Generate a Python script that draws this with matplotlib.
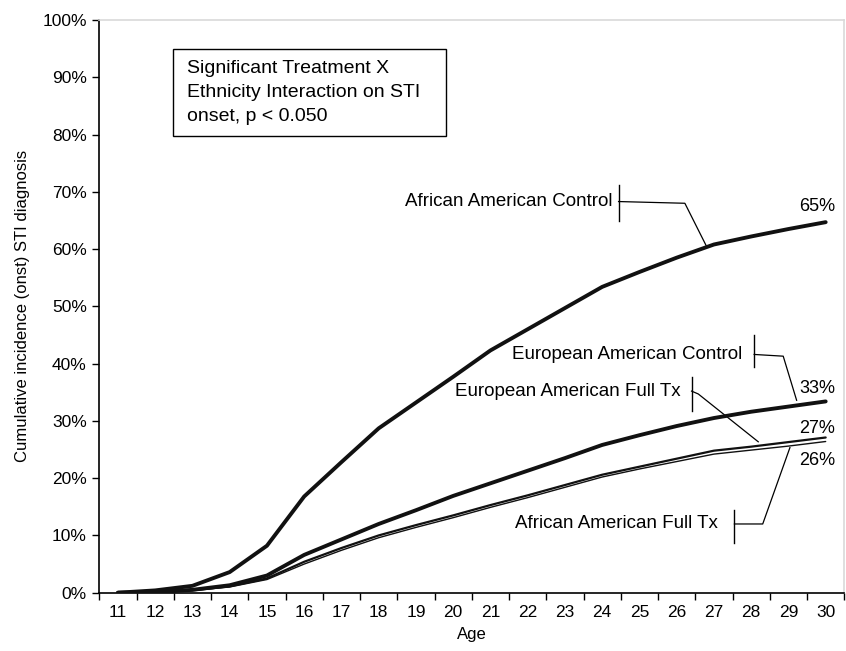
import numpy as np
import matplotlib
matplotlib.use("Agg")
import matplotlib.pyplot as plt
from matplotlib.patches import Rectangle
from matplotlib.ticker import FixedLocator, NullFormatter

plt.rcParams['font.family'] = ['Liberation Sans', 'DejaVu Sans']

# data (percent)
ages = list(range(11, 31))
aa_control = [0, 0.4, 1.2, 3.6, 8.2, 16.8, 22.8, 28.7, 33.2, 37.7,
              42.3, 46.0, 49.7, 53.4, 56.0, 58.5, 60.8, 62.2, 63.5, 64.7]
ea_control = [0, 0.1, 0.5, 1.3, 3.0, 6.6, 9.3, 12.0, 14.4, 16.9,
              19.1, 21.3, 23.5, 25.8, 27.5, 29.1, 30.5, 31.6, 32.5, 33.4]
ea_fulltx = [0, 0.1, 0.4, 1.1, 2.5, 5.4, 7.8, 10.0, 11.8, 13.5,
             15.3, 17.0, 18.8, 20.6, 22.0, 23.4, 24.8, 25.5, 26.3, 27.1]
aa_fulltx = [0, 0.1, 0.4, 1.0, 2.3, 5.0, 7.4, 9.6, 11.4, 13.1,
             14.9, 16.6, 18.4, 20.2, 21.6, 22.9, 24.2, 24.9, 25.6, 26.4]
end_labels = ['65%', '33%', '27%', '26%']
y_ticks = list(range(0, 101, 10))
box_text = 'Significant Treatment X\nEthnicity Interaction on STI\nonset, p < 0.050'

fig = plt.figure(figsize=(8.46, 6.51), dpi=100)
ax = fig.add_axes([99.3 / 846, 58.3 / 651, 745 / 846, 572.7 / 651])

ax.plot(ages, aa_control, color='#111111', lw=2.8, solid_capstyle='round',
        solid_joinstyle='round', zorder=4)
ax.plot(ages, ea_control, color='#111111', lw=2.8, solid_capstyle='round',
        solid_joinstyle='round', zorder=4)
ax.plot(ages, ea_fulltx, color='#111111', lw=1.6, solid_capstyle='round', zorder=3)
ax.plot(ages, aa_fulltx, color='#111111', lw=1.0, solid_capstyle='round', zorder=3)

ax.set_xlim(10.5, 30.5)
ax.set_ylim(0, 100)

# category axis: labels at centres, ticks at boundaries
ax.set_xticks(ages)
ax.set_xticklabels([str(a) for a in ages])
ax.xaxis.set_minor_locator(FixedLocator(np.arange(10.5, 31, 1)))
ax.xaxis.set_minor_formatter(NullFormatter())
ax.tick_params(axis='x', which='major', length=0, pad=9, labelsize=12.5)
ax.tick_params(axis='x', which='minor', length=5, width=1, direction='out')
ax.set_yticks(y_ticks)
ax.set_yticklabels(['%d%%' % v for v in y_ticks])
ax.tick_params(axis='y', length=5, width=1, direction='out', pad=4, labelsize=12.5)

ax.spines['left'].set_color('black')
ax.spines['bottom'].set_color('black')
ax.spines['top'].set_color('#d9d9d9')
ax.spines['right'].set_color('#d9d9d9')
for s in ax.spines.values():
    s.set_linewidth(1.2)

ax.set_xlabel('Age', fontsize=12, labelpad=5)
ax.set_ylabel('Cumulative incidence (onst) STI diagnosis', fontsize=12, labelpad=9)

# significance box
ax.add_patch(Rectangle((12.48, 79.75), 7.33, 15.2, fill=False, lw=1.0,
                       edgecolor='black', zorder=5))
ax.text(12.86, 87.4, box_text, fontsize=14, va='center', ha='left',
        linespacing=1.55, zorder=6)

# end labels
label_y = [67.35, 35.74, 28.6, 23.0]
for lab, yy in zip(end_labels, label_y):
    ax.text(29.28, yy, lab, fontsize=13, ha='left', va='center')

def leader(text, tx, ty, bx, blo, bhi, kx, ky, tipx, tipy):
    ax.text(tx, ty, text, fontsize=13.5, ha='right', va='center')
    ax.plot([bx, bx], [blo, bhi], color='black', lw=1.0)
    ax.plot([bx, kx, tipx], [ty, ky, tipy], color='black', lw=0.9)

leader('African American Control', 24.29, 68.3, 24.44, 64.96, 71.19,
       26.22, 68.0, 26.81, np.interp(26.81, ages, aa_control))
leader('European American Control', 27.75, 41.6, 28.08, 39.46, 45.0,
       28.86, 41.3, 29.22, np.interp(29.22, ages, ea_control) + 0.9)
leader('European American Full Tx', 26.11, 35.2, 26.40, 31.78, 37.72,
       26.58, 34.7, 28.19, np.interp(28.19, ages, ea_fulltx) + 0.7)
leader('African American Full Tx', 27.11, 12.0, 27.55, 8.63, 14.44,
       28.31, 12.0, 29.04, np.interp(29.04, ages, aa_fulltx) - 0.3)

fig.savefig('out.png', dpi=100)
